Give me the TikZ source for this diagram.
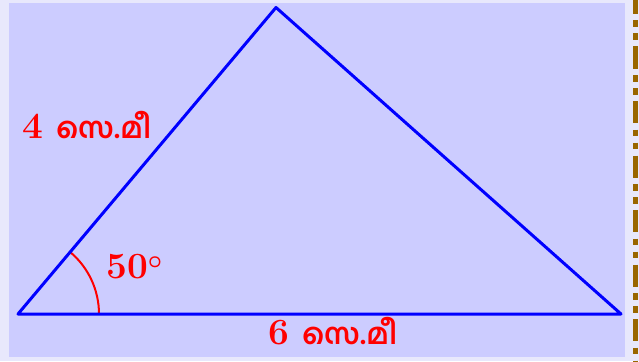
\documentclass[tikz,border=0pt]{standalone}
\usepackage{fontspec}
\newfontfamily\mlfont[Script=Malayalam]{Hind Kochi}
\definecolor{outerbg}{HTML}{E8E8FC}
\definecolor{innerbg}{HTML}{CCCCFF}
\definecolor{brownline}{HTML}{996600}
\newcommand{\mlcm}{{\mlfont\bfseries\fontsize{29}{34}\selectfont സെ.മീ}}
\tikzset{
  side/.style={draw=blue, line width=3pt, line join=round, line cap=round},
  anglearc/.style={draw=red, line width=2pt},
  lbl/.style={text=red, font=\fontsize{37}{42}\selectfont\bfseries\boldmath, inner sep=0pt, anchor=base west},
}
\begin{document}
\begin{tikzpicture}[x=1pt,y=-1pt]
\useasboundingbox (0,0) rectangle (639,361);
\fill[outerbg] (0,0) rectangle (639,361);
\fill[innerbg] (9,3.5) rectangle (625,357);
\draw[brownline, line width=5pt, dash pattern=on 22pt off 6.5pt on 6.5pt off 6.5pt on 6.5pt off 6.5pt, dash phase=8pt] (635.5,0) -- (635.5,361);
\coordinate (A) at (18,314);
\coordinate (B) at (276,7.5);
\coordinate (C) at (621,314);
\draw[anglearc] ([shift={(0:81)}]A) arc[start angle=0, end angle=-50, radius=81];
\draw[side] (A) -- (B) -- (C) -- cycle;
\node[lbl] (l4) at (22,138) {4\hspace{13pt}\mlcm};
\node[lbl] (l6) at (268,344) {6\hspace{13pt}\mlcm};
\node[lbl] (l50) at (106,278) {50$^\circ$};
\end{tikzpicture}
\end{document}
